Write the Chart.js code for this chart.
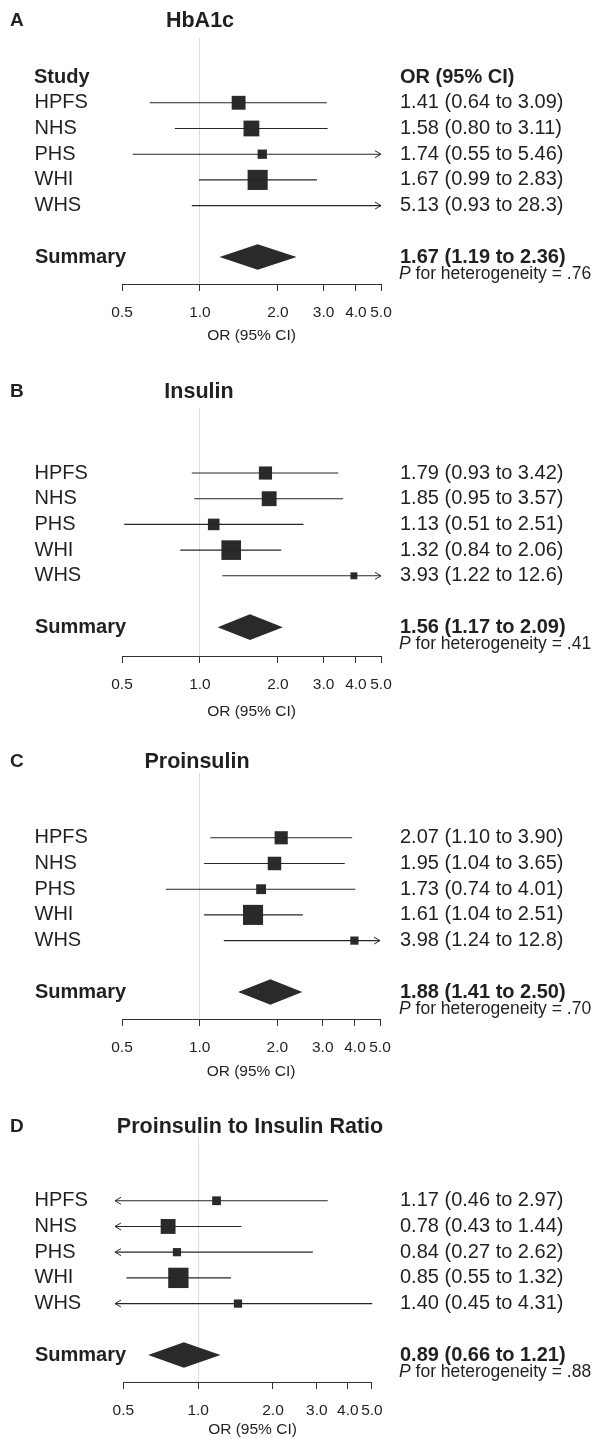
<!DOCTYPE html>
<html>
<head>
<meta charset="utf-8">
<script src="https://cdn.jsdelivr.net/npm/chart.js@4.4.1/dist/chart.umd.min.js"></script>
<style>
html, body { margin: 0; padding: 0; background: #fff; overflow: hidden; }
canvas { position: absolute; left: 0; display: block; }
</style>
</head>
<body>
<canvas id="pA" width="601" height="370" style="top:0px"></canvas>
<canvas id="pB" width="601" height="365" style="top:370px"></canvas>
<canvas id="pC" width="601" height="363" style="top:735px"></canvas>
<canvas id="pD" width="601" height="341" style="top:1098px"></canvas>
<script>
// data
var studies = ['HPFS', 'NHS', 'PHS', 'WHI', 'WHS'];
var tickVals = [0.5, 1.0, 2.0, 3.0, 4.0, 5.0];

var hba1cOR = [1.41, 1.58, 1.74, 1.67, 5.13];
var hba1cLo = [0.64, 0.80, 0.55, 0.99, 0.93];
var hba1cHi = [3.09, 3.11, 5.46, 2.83, 28.3];
var hba1cW = [20, 26, 9, 42, 3];
var hba1cSum = [1.67, 1.19, 2.36];
var hba1cP = '.76';

var insulinOR = [1.79, 1.85, 1.13, 1.32, 3.93];
var insulinLo = [0.93, 0.95, 0.51, 0.84, 1.22];
var insulinHi = [3.42, 3.57, 2.51, 2.06, 12.6];
var insulinW = [18, 23, 14, 40, 5];
var insulinSum = [1.56, 1.17, 2.09];
var insulinP = '.41';

var proinsOR = [2.07, 1.95, 1.73, 1.61, 3.98];
var proinsLo = [1.10, 1.04, 0.74, 1.04, 1.24];
var proinsHi = [3.90, 3.65, 4.01, 2.51, 12.8];
var proinsW = [18, 19, 10, 42, 7];
var proinsSum = [1.88, 1.41, 2.50];
var proinsP = '.70';

var ratioOR = [1.17, 0.78, 0.84, 0.85, 1.40];
var ratioLo = [0.46, 0.43, 0.27, 0.55, 0.45];
var ratioHi = [2.97, 1.44, 2.62, 1.32, 4.31];
var ratioW = [8, 23, 7, 43, 7];
var ratioSum = [0.89, 0.66, 1.21];
var ratioP = '.88';

var xMin = 0.5, xMax = 5.0;
var FONT = '"Liberation Sans", Arial, Helvetica, sans-serif';
var INK = '#231f20';

var panels = [
  {id: 'pA', letter: 'A', title: 'HbA1c', or: hba1cOR, lo: hba1cLo, hi: hba1cHi, w: hba1cW, sum: hba1cSum, p: hba1cP, header: true},
  {id: 'pB', letter: 'B', title: 'Insulin', or: insulinOR, lo: insulinLo, hi: insulinHi, w: insulinW, sum: insulinSum, p: insulinP},
  {id: 'pC', letter: 'C', title: 'Proinsulin', or: proinsOR, lo: proinsLo, hi: proinsHi, w: proinsW, sum: proinsSum, p: proinsP},
  {id: 'pD', letter: 'D', title: 'Proinsulin to Insulin Ratio', or: ratioOR, lo: ratioLo, hi: ratioHi, w: ratioW, sum: ratioSum, p: ratioP}
];

// layout of each panel (pixels in its own canvas)
var layouts = [
  {titleY: 21, titleX: 200, pad: {left: 122, right: 220, top: 38, bottom: 25}, axisH: 61, yMin: -1.52, yMax: 8.05, aMin: 0.5, aMax: 5.0},
  {titleY: 22, titleX: 199, pad: {left: 122, right: 220, top: 38, bottom: 14}, axisH: 65, yMin: -1.53, yMax: 8.12, aMin: 0.5, aMax: 5.0},
  {titleY: 27, titleX: 197, pad: {left: 122, right: 221, top: 38, bottom: 17}, axisH: 62, yMin: -1.52, yMax: 8.05, aMin: 0.5, aMax: 5.0},
  {titleY: 29, titleX: 250, pad: {left: 115, right: 211, top: 39, bottom: 0}, axisH: 57, yMin: -1.48, yMax: 8.05, aMin: 0.463, aMax: 5.91}
];

function fmt(v) { return v >= 10 ? v.toFixed(1) : v.toFixed(2); }
function ciText(a, b, c) { return fmt(a) + ' (' + fmt(b) + ' to ' + fmt(c) + ')'; }

var forestPlugin = {
  id: 'forest',
  afterDraw: function (chart) {
    var cfg = chart.options.plugins.forest.cfg;
    var lay = chart.options.plugins.forest.lay;
    var ctx = chart.ctx, x = chart.scales.x, y = chart.scales.y, xa = chart.scales.xa;
    var ca = chart.chartArea;
    ctx.save();

    // axis line between first and last tick
    ctx.strokeStyle = '#333';
    ctx.lineWidth = 1;
    ctx.beginPath();
    ctx.moveTo(xa.getPixelForValue(tickVals[0]), ca.bottom + 0.5);
    ctx.lineTo(xa.getPixelForValue(tickVals[tickVals.length - 1]), ca.bottom + 0.5);
    ctx.stroke();

    // arrows for intervals running off the scale
    ctx.strokeStyle = '#2a2a2a';
    for (var i = 0; i < studies.length; i++) {
      var py = y.getPixelForValue(i + 1);
      if (cfg.hi[i] > x.max) {
        ctx.beginPath();
        ctx.moveTo(ca.right - 6, py - 3.5); ctx.lineTo(ca.right, py); ctx.lineTo(ca.right - 6, py + 3.5);
        ctx.stroke();
      }
      if (cfg.lo[i] < x.min) {
        ctx.beginPath();
        ctx.moveTo(ca.left + 6, py - 3.5); ctx.lineTo(ca.left, py); ctx.lineTo(ca.left + 6, py + 3.5);
        ctx.stroke();
      }
    }

    // summary diamond
    var s = cfg.sum;
    ctx.fillStyle = '#2a2a2a';
    ctx.beginPath();
    ctx.moveTo(x.getPixelForValue(s[1]), y.getPixelForValue(7));
    ctx.lineTo(x.getPixelForValue(s[0]), y.getPixelForValue(6.5));
    ctx.lineTo(x.getPixelForValue(s[2]), y.getPixelForValue(7));
    ctx.lineTo(x.getPixelForValue(s[0]), y.getPixelForValue(7.5));
    ctx.closePath();
    ctx.fill();

    // texts
    ctx.fillStyle = INK;
    ctx.textBaseline = 'middle';
    ctx.textAlign = 'left';
    ctx.font = 'bold 19px ' + FONT;
    ctx.fillText(cfg.letter, 10, lay.titleY);
    ctx.font = 'bold 21.5px ' + FONT;
    ctx.textAlign = 'center';
    ctx.fillText(cfg.title, lay.titleX, lay.titleY);
    ctx.textAlign = 'left';

    if (cfg.header) {
      ctx.font = 'bold 20px ' + FONT;
      ctx.fillText('Study', 34, y.getPixelForValue(0));
      ctx.fillText('OR (95% CI)', 400, y.getPixelForValue(0));
    }
    ctx.font = '20px ' + FONT;
    for (var j = 0; j < studies.length; j++) {
      var ty = y.getPixelForValue(j + 1);
      ctx.fillText(studies[j], 34.5, ty);
      ctx.fillText(ciText(cfg.or[j], cfg.lo[j], cfg.hi[j]), 400, ty);
    }
    ctx.font = 'bold 20px ' + FONT;
    var sy = y.getPixelForValue(7);
    ctx.fillText('Summary', 35, sy);
    ctx.fillText(ciText(s[0], s[1], s[2]), 400, sy);

    ctx.font = 'italic 17.5px ' + FONT;
    ctx.fillText('P', 399, sy + 17);
    var pw = ctx.measureText('P').width;
    ctx.font = '17.5px ' + FONT;
    ctx.fillText(' for heterogeneity = ' + cfg.p, 399 + pw, sy + 17);
    ctx.restore();
  }
};

panels.forEach(function (cfg, k) {
  var lay = layouts[k];
  var datasets = studies.map(function (s, i) {
    return {
      type: 'line',
      data: [{x: cfg.lo[i], y: i + 1}, {x: cfg.hi[i], y: i + 1}],
      borderColor: '#262626',
      borderWidth: 1.1,
      pointRadius: 0,
      xAxisID: 'x',
      yAxisID: 'y'
    };
  });
  var pts = [], rad = [];
  for (var i = 0; i < studies.length; i++) {
    if (cfg.or[i] >= xMin && cfg.or[i] <= xMax) {
      pts.push({x: cfg.or[i], y: i + 1});
      rad.push(3.1 * Math.sqrt(cfg.w[i]) / Math.SQRT2);
    }
  }
  datasets.push({
    type: 'scatter',
    data: pts,
    pointStyle: 'rect',
    pointRadius: rad,
    backgroundColor: '#2a2a2a',
    borderWidth: 0,
    xAxisID: 'x',
    yAxisID: 'y'
  });

  new Chart(document.getElementById(cfg.id), {
    type: 'scatter',
    data: {datasets: datasets},
    options: {
      responsive: false,
      animation: false,
      events: [],
      layout: {padding: lay.pad},
      plugins: {legend: {display: false}, tooltip: {enabled: false}, forest: {cfg: cfg, lay: lay}},
      scales: {
        x: {type: 'logarithmic', min: xMin, max: xMax, display: false},
        xa: {
          type: 'logarithmic',
          position: 'bottom',
          min: lay.aMin,
          max: lay.aMax,
          afterBuildTicks: function (sc) { sc.ticks = tickVals.map(function (v) { return {value: v}; }); },
          afterFit: function (sc) { sc.height = lay.axisH; },
          border: {display: false},
          grid: {
            color: function (c) { return c.tick && c.tick.value === 1 ? '#dcdcdc' : 'rgba(0,0,0,0)'; },
            tickColor: '#333',
            tickLength: 7,
            lineWidth: 1
          },
          ticks: {
            autoSkip: false,
            maxRotation: 0,
            padding: 12,
            color: INK,
            font: {family: FONT, size: 15.5},
            callback: function (v) { return Number(v).toFixed(1); }
          },
          title: {display: true, text: 'OR (95% CI)', color: INK, font: {family: FONT, size: 15.5}, padding: 0}
        },
        y: {type: 'linear', reverse: true, min: lay.yMin, max: lay.yMax, display: false}
      }
    },
    plugins: [forestPlugin]
  });
});
</script>
</body>
</html>
